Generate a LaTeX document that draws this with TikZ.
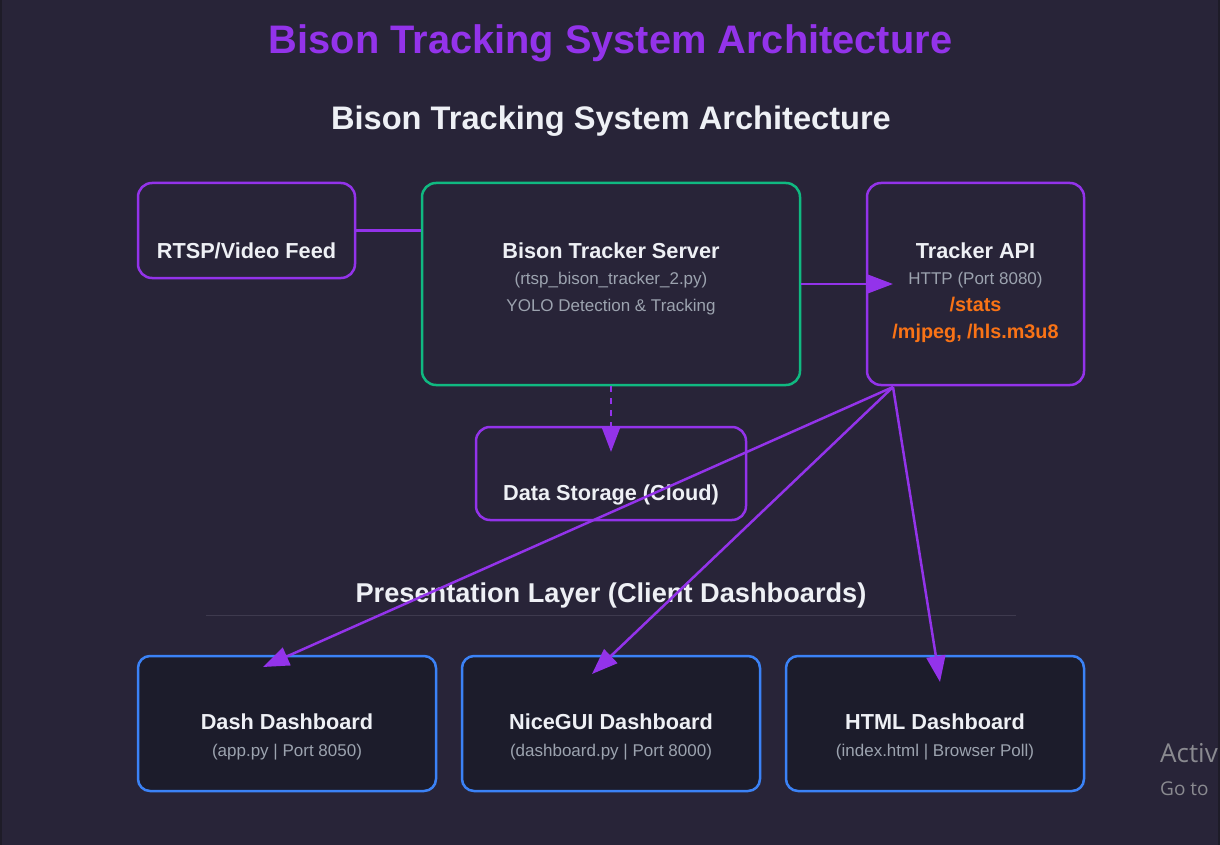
\documentclass[tikz,border=0pt]{standalone}
\usepackage{fontspec}
\setmainfont{Liberation Sans}
\newfontfamily\winfont{Open Sans}
\usetikzlibrary{arrows.meta}
\definecolor{bg}{HTML}{282438}
\definecolor{edgec}{HTML}{1E1C28}
\definecolor{purp}{HTML}{9333EA}
\definecolor{greenb}{HTML}{10B981}
\definecolor{blueb}{HTML}{3B82F6}
\definecolor{dashfill}{HTML}{1C1C2B}
\definecolor{txtw}{HTML}{EEF0F5}
\definecolor{txtg}{HTML}{9CA3AF}
\definecolor{orng}{HTML}{F97316}
\definecolor{sepc}{HTML}{3E3A4E}
\definecolor{winc}{HTML}{8A8A90}
\tikzset{
  box/.style={draw=purp, line width=2.5pt, rounded corners=14pt, inner sep=0pt},
  srvbox/.style={box, draw=greenb},
  dashbox/.style={box, draw=blueb, fill=dashfill, rounded corners=12pt},
  txt/.style={anchor=base, inner sep=0pt, text=txtw},
  maintitle/.style={txt, text=purp, font=\fontsize{39.8}{44}\selectfont\bfseries},
  subtitle/.style={txt, font=\fontsize{32.6}{38}\selectfont\bfseries},
  secttitle/.style={txt, font=\fontsize{27.2}{32}\selectfont\bfseries},
  btitle/.style={txt, font=\fontsize{21.7}{26}\selectfont\bfseries},
  bsub/.style={txt, text=txtg, font=\fontsize{17}{20}\selectfont},
  endp/.style={txt, text=orng, font=\fontsize{19.8}{23}\selectfont\bfseries},
  conn/.style={draw=purp, line width=2.5pt},
  arr/.style={conn, -{Triangle[length=26pt, width=19pt]}},
  wintxt/.style={anchor=base west, inner sep=0pt, text=winc, font=\winfont}
}
\begin{document}
\begin{tikzpicture}[x=1pt, y=-1pt]
\fill[bg] (0,0) rectangle (1220,845);
\useasboundingbox (0,0) rectangle (1220,845);
\fill[edgec] (0,0) rectangle (2,845);
\fill[edgec] (1218,0) rectangle (1220,845);

% titles
\node[maintitle] (t1) at (610.5,54) {Bison Tracking System Architecture};
\node[subtitle] (t2) at (611,129.5) {Bison Tracking System Architecture};

% boxes
\node[box, minimum width=217pt, minimum height=95pt] (rtsp) at (246.5,230.5) {};
\node[srvbox, minimum width=378pt, minimum height=202pt] (server) at (611,284) {};
\node[box, minimum width=217pt, minimum height=202pt] (api) at (975.5,284) {};
\node[box, minimum width=270pt, minimum height=93pt] (store) at (611,473.5) {};

\node[btitle] (rtspT) at (246.5,258) {RTSP/Video Feed};
\node[btitle] (serverT) at (611,258) {Bison Tracker Server};
\node[bsub] (serverS1) at (611,284) {(rtsp\_bison\_tracker\_2.py)};
\node[bsub] (serverS2) at (611,311) {YOLO Detection \& Tracking};
\node[btitle] (apiT) at (975.5,258) {Tracker API};
\node[bsub] (apiS) at (975.5,284) {HTTP (Port 8080)};
\node[endp] (apiE1) at (975.5,311) {/stats};
\node[endp] (apiE2) at (975.5,338) {/mjpeg, /hls.m3u8};
\node[btitle] (storeT) at (611,500.5) {Data Storage (Cloud)};

% presentation layer
\node[secttitle] (pres) at (611,602) {Presentation Layer (Client Dashboards)};
\coordinate (sepL) at (206,615);
\coordinate (sepR) at (1016,615);
\draw[sepc, line width=1pt] (sepL) -- (sepR);

\node[dashbox, minimum width=298pt, minimum height=135pt] (dash) at (287,723.5) {};
\node[dashbox, minimum width=298pt, minimum height=135pt] (nice) at (611,723.5) {};
\node[dashbox, minimum width=298pt, minimum height=135pt] (html) at (935,723.5) {};
\node[btitle] (dashT) at (287,729) {Dash Dashboard};
\node[bsub] (dashS) at (287,756) {(app.py | Port 8050)};
\node[btitle] (niceT) at (611,729) {NiceGUI Dashboard};
\node[bsub] (niceS) at (611,756) {(dashboard.py | Port 8000)};
\node[btitle] (htmlT) at (935,729) {HTML Dashboard};
\node[bsub] (htmlS) at (935,756) {(index.html | Browser Poll)};

% connectors
\coordinate (apiIn) at (893,284);
\coordinate (storeIn) at (611,452);
\coordinate (apiOut) at (893,387);
\coordinate (dashIn) at (263,667);
\coordinate (niceIn) at (592,674);
\coordinate (htmlIn) at (940,682);
\draw[conn] (rtsp.east) -- (server.west |- rtsp.east);
\draw[arr] (server.east |- apiIn) -- (apiIn);
\draw[arr, dash pattern=on 6pt off 6pt] (server.south) -- (storeIn);
\draw[arr] (apiOut) -- (dashIn);
\draw[arr] (apiOut) -- (niceIn);
\draw[arr] (apiOut) -- (htmlIn);

% watermark
\node[wintxt, font=\winfont\fontsize{26}{30}\selectfont] (win1) at (1160,762) {Activ};
\node[wintxt, font=\winfont\fontsize{19}{23}\selectfont] (win2) at (1160,795) {Go to};
\end{tikzpicture}
\end{document}
